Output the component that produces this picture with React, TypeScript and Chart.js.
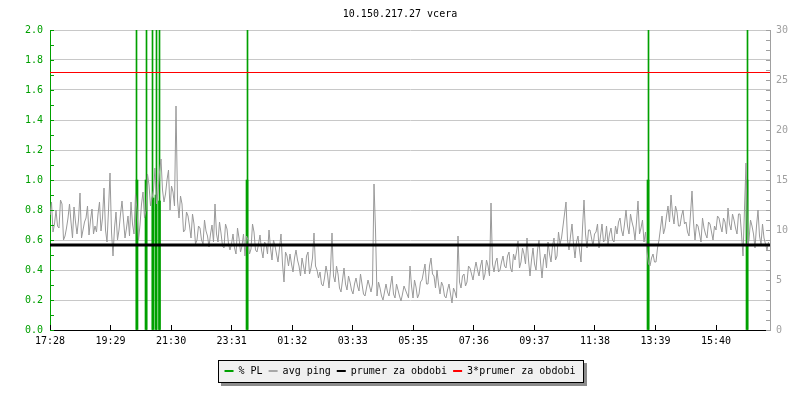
import { useEffect, useRef } from "react";
import { Chart, registerables } from "chart.js";

Chart.register(...registerables);

const titleText = "10.150.217.27 vcera";
const timeLabels = ["17:28", "19:29", "21:30", "23:31", "01:32", "03:33", "05:35", "07:36", "09:37", "11:38", "13:39", "15:40"];
const tickStepMinutes = 121.1;
const sampleStepMinutes = 6;
const halfStepMinutes = 3;
const spanMinutes = 1440;

// avg ping in ms (right axis): readings at the start of every 6-minute bucket from 17:28
const pingMsEven = [
  11.5, 9.8, 12.0, 10.2, 12.6, 9.4, 11.2, 10.8, 12.3, 9.6,
  13.7, 10.0, 11.2, 9.5, 12.1, 10.4, 11.6, 9.9, 14.2, 8.8,
  15.7, 7.4, 11.8, 10.0, 12.9, 9.2, 11.4, 12.8, 9.6, 12.0,
  10.5, 13.8, 12.0, 14.5, 13.2, 16.2, 13.8, 17.1, 12.8, 15.0,
  12.0, 13.8, 22.4, 11.2, 12.6, 10.0, 11.4, 9.2, 10.6, 9.0,
  10.2, 8.6, 9.9, 8.3, 10.5, 12.6, 8.8, 9.7, 8.2, 10.1,
  8.0, 9.6, 7.6, 9.2, 8.4, 7.4, 9.0, 8.1, 9.8, 7.8,
  9.5, 7.2, 8.6, 10.0, 7.0, 8.4, 6.8, 9.6, 4.8, 7.4,
  7.6, 5.8, 8.0, 6.4, 7.2, 5.6, 7.8, 6.2, 9.7, 6.0,
  5.8, 4.4, 6.4, 4.2, 9.7, 4.8, 5.6, 3.8, 6.2, 4.0,
  4.8, 3.6, 5.2, 3.9, 4.6, 3.4, 5.0, 3.8, 14.6, 3.4,
  4.2, 3.0, 4.6, 3.4, 5.4, 3.2, 4.0, 2.9, 4.4, 3.6,
  6.4, 3.2, 4.3, 3.6, 5.0, 6.6, 4.6, 7.2, 5.4, 6.0,
  3.6, 4.4, 3.2, 4.6, 2.7, 3.8, 9.4, 4.2, 5.6, 4.8,
  6.2, 5.0, 6.8, 5.4, 7.0, 5.6, 6.4, 12.7, 5.8, 7.2,
  6.0, 7.4, 6.2, 7.8, 5.8, 7.0, 8.9, 6.8, 7.6, 9.2,
  5.4, 8.2, 6.0, 9.0, 5.2, 7.6, 8.8, 6.8, 9.2, 7.4,
  8.6, 10.4, 12.8, 8.0, 10.6, 7.2, 9.4, 6.8, 13.0, 8.2,
  10.0, 8.4, 9.8, 8.2, 10.6, 9.0, 8.6, 10.2, 8.8, 9.6,
  11.2, 9.4, 12.0, 9.6, 10.8, 9.0, 12.9, 10.2, 8.8, 7.8,
  6.4, 7.6, 6.8, 9.0, 11.4, 10.2, 12.4, 13.5, 10.6, 11.8,
  10.4, 12.0, 10.8, 9.4, 13.9, 9.0, 10.4, 8.8, 10.2, 9.2,
  10.6, 9.0, 10.0, 11.2, 9.8, 10.8, 12.2, 10.0, 11.0, 9.6,
  11.6, 7.4, 16.7, 9.0, 10.4, 8.2, 12.0, 8.6, 9.2, 8.0,
];

// avg ping in ms (right axis): readings 3 minutes into every bucket
const pingMsOdd = [
  12.8, 10.6, 10.4, 13.0, 9.0, 10.2, 12.6, 9.2, 10.8, 11.0,
  9.2, 10.8, 12.4, 11.0, 9.6, 9.8, 12.8, 11.2, 10.0, 12.0,
  9.8, 10.2, 9.0, 11.6, 11.0, 10.2, 9.4, 10.6, 13.6, 9.0,
  12.6, 11.2, 15.6, 12.4, 14.0, 12.6, 15.8, 14.0, 13.6, 16.0,
  14.4, 12.4, 13.0, 13.4, 9.8, 11.8, 10.4, 11.6, 8.6, 10.4,
  9.0, 11.0, 9.4, 9.6, 8.8, 9.6, 10.8, 8.4, 10.6, 8.6,
  8.6, 8.2, 10.2, 7.8, 9.6, 9.4, 7.6, 10.6, 8.0, 8.6,
  8.0, 8.8, 7.6, 8.2, 9.0, 7.6, 8.2, 6.6, 7.8, 6.4,
  6.6, 7.2, 7.0, 5.4, 6.4, 7.4, 5.6, 7.2, 6.4, 5.2,
  4.6, 5.2, 5.6, 6.0, 5.4, 6.4, 4.2, 5.0, 4.6, 5.4,
  4.0, 4.6, 4.4, 5.6, 3.6, 4.2, 4.4, 4.6, 10.0, 4.8,
  3.4, 3.8, 3.8, 4.4, 3.6, 4.6, 3.4, 3.6, 4.0, 3.2,
  4.4, 5.0, 3.2, 4.8, 5.8, 4.6, 6.4, 5.6, 4.2, 4.6,
  4.8, 3.4, 4.0, 3.6, 4.2, 3.2, 4.8, 5.4, 4.4, 6.4,
  5.6, 6.0, 6.0, 6.4, 5.0, 7.0, 5.4, 6.6, 6.8, 5.8,
  6.8, 6.4, 7.4, 6.2, 7.6, 7.8, 6.2, 8.2, 6.6, 7.0,
  7.0, 6.6, 8.0, 6.8, 7.0, 6.2, 7.6, 8.4, 7.0, 9.8,
  9.2, 11.6, 9.0, 9.4, 8.6, 8.8, 8.0, 10.2, 9.6, 10.0,
  9.2, 9.6, 10.6, 9.4, 8.8, 10.4, 9.6, 9.0, 10.4, 10.8,
  10.0, 10.6, 10.4, 11.6, 10.2, 10.8, 9.6, 11.0, 9.8, 6.6,
  7.2, 6.8, 8.2, 10.2, 9.6, 11.4, 10.8, 11.6, 12.4, 10.4,
  11.4, 10.6, 9.8, 11.6, 10.8, 10.6, 9.6, 11.2, 9.6, 10.8,
  9.8, 10.4, 11.4, 10.4, 11.2, 9.6, 10.6, 11.6, 10.2, 11.6,
  9.6, 12.2, 8.4, 11.0, 9.6, 10.4, 9.4, 10.6, 8.6, 8.8,
];

// packet loss events (left axis), minutes after 17:28
const plPeakMinutes = [173, 193, 205, 213, 219, 395, 1197, 1395];
const plPeakValues = [2.0, 2.0, 2.0, 2.0, 2.0, 2.0, 2.0, 2.0];
const plStepMinutes = [174, 192, 206, 212, 219, 394, 1196, 1394];
const plStepValues = [1.0, 1.0, 0.88, 0.9, 0.86, 1.0, 1.0, 1.0];

const meanPing = 8.5;
const tripleMeanPing = 25.75;

const legendNames = ["% PL", "avg ping", "prumer za obdobi", "3*prumer za obdobi"];

const GREEN = "#00a000";
const GRAY = "#999999";
const AXIS_GRAY = "#a0a0a0";
const legendColors = [GREEN, "#a8a8a8", "#000000", "#ff0000"];

const MONO = "'DejaVu Sans Mono', monospace";

const legendBoxPlugin = {
  id: "legendBox",
  beforeDraw(chart: any) {
    const lg = chart.legend;
    if (!lg || !lg.legendHitBoxes || !lg.legendHitBoxes.length) return;
    const hbs = lg.legendHitBoxes;
    const l = Math.round(Math.min(...hbs.map((h: any) => h.left)) - 7);
    const r = Math.round(Math.max(...hbs.map((h: any) => h.left + h.width)) + 9);
    const t = Math.round(hbs[0].top - 6);
    const b = Math.round(hbs[0].top + hbs[0].height + 7);
    const ctx = chart.ctx;
    ctx.save();
    ctx.fillStyle = "#8c8c8c";
    ctx.fillRect(l + 3, t + 3, r - l, b - t);
    ctx.fillStyle = "#f0f0f0";
    ctx.fillRect(l, t, r - l, b - t);
    ctx.strokeStyle = "#000";
    ctx.lineWidth = 1;
    ctx.strokeRect(l + 0.5, t + 0.5, r - l - 1, b - t - 1);
    ctx.restore();
  },
};

const innerTicksPlugin = {
  id: "innerTicks",
  afterDatasetsDraw(chart: any) {
    const { ctx, chartArea, scales } = chart;
    const { left, right, bottom } = chartArea;
    ctx.save();
    ctx.lineWidth = 1;
    ctx.strokeStyle = "#000";
    ctx.beginPath();
    scales.x.ticks.forEach((t: any) => {
      const px = Math.floor(scales.x.getPixelForValue(t.value)) + 0.5;
      ctx.moveTo(px, bottom);
      ctx.lineTo(px, bottom - 5);
    });
    ctx.stroke();
    ctx.strokeStyle = GREEN;
    ctx.beginPath();
    for (let k = 0; k <= 20; k++) {
      const py = Math.round(scales.y.getPixelForValue(k / 10)) + 0.5;
      ctx.moveTo(left, py);
      ctx.lineTo(left + 4, py);
    }
    ctx.stroke();
    ctx.strokeStyle = AXIS_GRAY;
    ctx.beginPath();
    for (let k = 0; k <= 30; k++) {
      const py = Math.round(scales.y1.getPixelForValue(k)) + 0.5;
      ctx.moveTo(right - 4, py);
      ctx.lineTo(right, py);
    }
    ctx.stroke();
    ctx.restore();
  },
};

export default function App() {
  const canvasRef = useRef<HTMLCanvasElement | null>(null);

  useEffect(() => {
    if (!canvasRef.current) return;
    Chart.defaults.font.family = MONO;
    Chart.defaults.font.size = 10;

    const pingData: { x: number; y: number }[] = [];
    pingMsEven.forEach((v, i) => {
      pingData.push({ x: i * sampleStepMinutes, y: v });
      pingData.push({ x: i * sampleStepMinutes + halfStepMinutes, y: pingMsOdd[i] });
    });
    const plPeakData = plPeakMinutes.map((m, i) => ({ x: m, y: plPeakValues[i] }));
    const plStepData = plStepMinutes.map((m, i) => ({ x: m, y: plStepValues[i] }));

    const chart = new Chart(canvasRef.current, {
      type: "line",
      data: {
        datasets: [
          {
            type: "bar",
            label: "% PL",
            data: plPeakData,
            yAxisID: "y",
            backgroundColor: GREEN,
            borderWidth: 0,
            barThickness: 1,
            grouped: false,
            order: 5,
          } as any,
          {
            type: "bar",
            label: "% PL step",
            data: plStepData,
            yAxisID: "y",
            backgroundColor: GREEN,
            borderWidth: 0,
            barThickness: 2,
            grouped: false,
            order: 4,
          } as any,
          {
            label: "avg ping",
            data: pingData,
            yAxisID: "y1",
            borderColor: GRAY,
            borderWidth: 1,
            pointRadius: 0,
            tension: 0,
            order: 3,
          },
          {
            label: "3*prumer za obdobi",
            data: [
              { x: 0, y: tripleMeanPing },
              { x: spanMinutes, y: tripleMeanPing },
            ],
            yAxisID: "y1",
            borderColor: "#ff0000",
            borderWidth: 1,
            pointRadius: 0,
            order: 2,
          },
          {
            label: "prumer za obdobi",
            data: [
              { x: 0, y: meanPing },
              { x: spanMinutes, y: meanPing },
            ],
            yAxisID: "y1",
            borderColor: "#000000",
            borderWidth: 3,
            pointRadius: 0,
            order: 1,
          },
        ],
      },
      options: {
        animation: false,
        responsive: false,
        devicePixelRatio: 1,
        layout: { padding: { top: 0, bottom: 14, left: 0, right: 0 } },
        plugins: {
          title: {
            display: true,
            text: titleText,
            color: "#000",
            font: { family: MONO, size: 10, weight: "normal" },
            padding: { top: 8, bottom: 10 },
          },
          legend: {
            display: true,
            position: "bottom",
            labels: {
              boxWidth: 9,
              boxHeight: 2,
              padding: 6,
              color: "#000",
              font: { family: MONO, size: 10 },
              generateLabels: () =>
                legendNames.map((text, i) => ({
                  text,
                  fillStyle: legendColors[i],
                  strokeStyle: legendColors[i],
                  lineWidth: 0,
                  hidden: false,
                  datasetIndex: i,
                  fontColor: "#000",
                })),
            },
          },
          tooltip: { enabled: false },
        },
        scales: {
          x: {
            type: "linear",
            min: 0,
            max: spanMinutes,
            offset: false,
            afterBuildTicks: (scale: any) => {
              scale.ticks = timeLabels.map((_, i) => ({ value: i * tickStepMinutes }));
            },
            afterFit: (scale: any) => {
              scale.height = 30;
            },
            grid: { display: false, drawTicks: false },
            border: { display: true, color: "#000" },
            ticks: {
              autoSkip: false,
              maxRotation: 0,
              padding: 5,
              color: "#000",
              font: { family: MONO, size: 10 },
              callback: (_v: any, i: number) => timeLabels[i],
            },
          },
          y: {
            type: "linear",
            position: "left",
            min: 0,
            max: 2,
            afterFit: (scale: any) => {
              scale.width = 50;
            },
            grid: { color: "#c8c8c8", drawTicks: false, lineWidth: 1 },
            border: { display: true, color: GREEN },
            ticks: {
              stepSize: 0.2,
              padding: 7,
              color: GREEN,
              font: { family: MONO, size: 10 },
              callback: (v: any) => Number(v).toFixed(1),
            },
          },
          y1: {
            type: "linear",
            position: "right",
            min: 0,
            max: 30,
            afterFit: (scale: any) => {
              scale.width = 30;
            },
            grid: { display: false, drawTicks: false },
            border: { display: true, color: AXIS_GRAY },
            ticks: {
              stepSize: 5,
              padding: 6,
              color: AXIS_GRAY,
              font: { family: MONO, size: 10 },
            },
          },
        },
      } as any,
      plugins: [legendBoxPlugin, innerTicksPlugin],
    });

    return () => chart.destroy();
  }, []);

  return (
    <div style={{ position: "absolute", left: 0, top: 0, width: 800, height: 400, background: "#fff" }}>
      <canvas ref={canvasRef} width={800} height={400} />
    </div>
  );
}
